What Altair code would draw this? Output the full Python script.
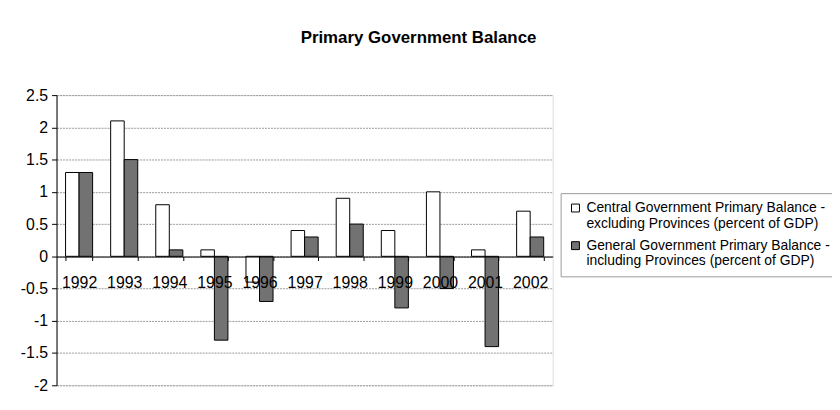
import altair as alt
import pandas as pd

years = ["1992", "1993", "1994", "1995", "1996", "1997", "1998", "1999", "2000", "2001", "2002"]
central = [1.3, 2.1, 0.8, 0.1, -0.4, 0.4, 0.9, 0.4, 1.0, 0.1, 0.7]
general = [1.3, 1.5, 0.1, -1.3, -0.7, 0.3, 0.5, -0.8, -0.5, -1.4, 0.3]
series_names = [
    "Central Government Primary Balance -|excluding Provinces (percent of GDP)",
    "General Government Primary Balance -|including Provinces (percent of GDP)",
]
y_ticks = [-2, -1.5, -1, -0.5, 0, 0.5, 1, 1.5, 2, 2.5]
title_text = "Primary Government Balance"

rows = []
for i, yr in enumerate(years):
    rows.append({"year": yr, "series": series_names[0], "value": central[i]})
    rows.append({"year": yr, "series": series_names[1], "value": general[i]})
df = pd.DataFrame(rows)

FONT = "Liberation Sans Narrow, Liberation Sans, Arial"

chart = alt.Chart(df).mark_bar(stroke="black", strokeWidth=1).encode(
    x=alt.X(
        "year:N",
        sort=years,
        scale=alt.Scale(paddingInner=0.4, paddingOuter=0.2),
        axis=alt.Axis(
            title=None,
            orient="bottom",
            offset=-130,
            labelAngle=0,
            labelFontSize=16,
            labelFont=FONT,
            labelColor="black",
            labelPadding=14,
            domainColor="black",
            tickColor="black",
            tickSize=4,
            tickBand="extent",
            grid=False,
            zindex=1,
        ),
    ),
    xOffset=alt.XOffset("series:N", sort=series_names),
    y=alt.Y(
        "value:Q",
        scale=alt.Scale(domain=[-2, 2.5], nice=False),
        axis=alt.Axis(
            title=None,
            values=y_ticks,
            labelExpr="toString(datum.value)",
            labelFontSize=16,
            labelFont=FONT,
            labelColor="black",
            labelPadding=4,
            domainColor="black",
            tickColor="black",
            tickSize=5,
            grid=True,
            gridColor="#9a9a9a",
            gridDash=[2, 1],
            zindex=0,
        ),
    ),
    color=alt.Color(
        "series:N",
        sort=series_names,
        scale=alt.Scale(domain=series_names, range=["#ffffff", "#727272"]),
        legend=alt.Legend(
            title=None,
            orient="none",
            legendX=509,
            legendY=99,
            labelExpr="split(datum.label, '|')",
            labelFont=FONT,
            labelFontSize=14,
            labelColor="black",
            labelLimit=400,
            symbolType="square",
            symbolSize=64,
            symbolStrokeColor="black",
            symbolStrokeWidth=1,
            strokeColor="#9a9a9a",
            padding=8,
            rowPadding=8,
            labelOffset=4,
        ),
    ),
).properties(
    width=501,
    height=293,
    title=alt.TitleParams(
        text=title_text,
        font=FONT,
        fontSize=17,
        fontWeight="bold",
        color="black",
        anchor="middle",
        dx=115,
        offset=41,
    ),
    autosize=alt.AutoSizeParams(type="none"),
    padding={"left": 49, "top": 86, "right": 282, "bottom": 23},
).configure_view(
    stroke="#9a9a9a", strokeWidth=1
).configure(background="white")

chart.save("out.html", embed_options={"renderer": "svg", "actions": False})
